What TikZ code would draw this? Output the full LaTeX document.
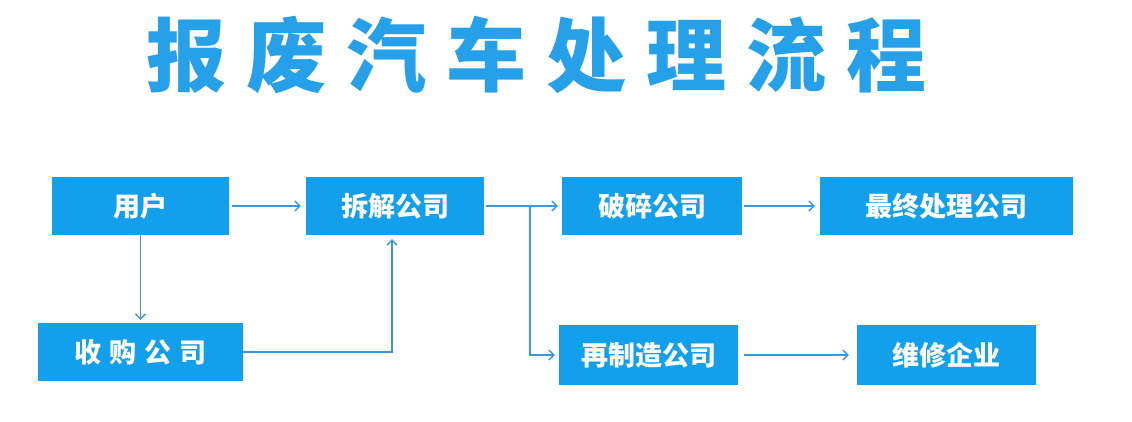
\documentclass[tikz,border=0pt]{standalone}
\usepackage{fontspec}
\newfontfamily\cjk{Noto Sans CJK SC}
\usetikzlibrary{arrows.meta}
\definecolor{boxblue}{RGB}{18,160,236}
\definecolor{titleblue}{RGB}{38,160,232}
\definecolor{lineblue}{RGB}{60,152,218}
\newcommand{\tsp}{\hspace{20pt}}
\begin{document}
\begin{tikzpicture}[x=1pt,y=-1pt,
  box/.style={fill=boxblue, text=white, font=\cjk\bfseries\fontsize{27}{27}\selectfont, inner sep=0pt, minimum height=58pt},
  conn/.style={draw=lineblue, line width=1.3pt, -{Straight Barb[length=5pt,width=10pt,line width=1.3pt]}},
  ttl/.style={text=titleblue, font=\cjk\bfseries\fontsize{80}{80}\selectfont, inner sep=0pt}]
\useasboundingbox (0,0) rectangle (1132,421);
\fill[white] (0,0) rectangle (1132,421);
\node[ttl] (title) at (536,55) {报\tsp 废\tsp 汽\tsp 车\tsp 处\tsp 理\tsp 流\tsp 程};
\node[box, minimum width=177pt] (u) at (140.5,206) {用户};
\node[box, minimum width=178pt] (c) at (395,206) {拆解公司};
\node[box, minimum width=180pt] (p) at (652,206) {破碎公司};
\node[box, minimum width=253pt] (f) at (946.5,206) {最终处理公司};
\node[box, minimum width=205pt] (s) at (140.5,352) {收\hspace{8pt}购\hspace{8pt}公\hspace{8pt}司};
\node[box, minimum width=179pt, minimum height=60pt] (z) at (648.5,355) {再制造公司};
\node[box, minimum width=179pt, minimum height=60pt] (w) at (946.5,355) {维修企业};
\coordinate (br) at (530,206);
\draw[conn] ([xshift=3pt]u.east) -- ([xshift=-5pt]c.west);
\draw[conn] ([xshift=2pt]c.east) -- ([xshift=-4pt]p.west);
\draw[conn] (br) |- ([xshift=-4pt]z.west);
\draw[conn] ([xshift=2pt]p.east) -- ([xshift=-5pt]f.west);
\draw[conn] (u.south) -- ([yshift=3pt]s.north);
\draw[conn] (s.east) -| ([xshift=-3pt,yshift=-4pt]c.south);
\draw[conn] ([xshift=6pt]z.east) -- ([xshift=-8pt]w.west);
\end{tikzpicture}
\end{document}
